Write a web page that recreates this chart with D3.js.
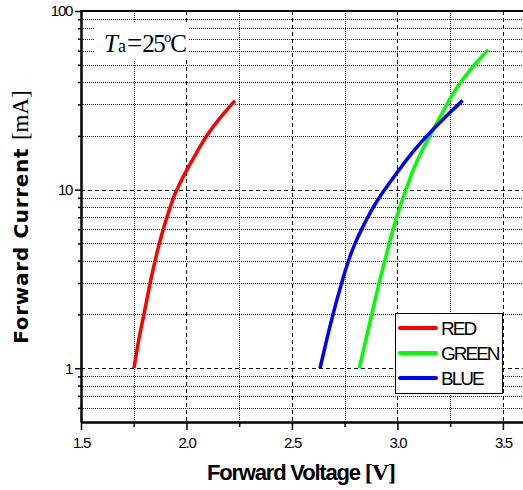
<!DOCTYPE html>
<html><head><meta charset="utf-8">
<script src="https://cdn.jsdelivr.net/npm/d3@7"></script>
<style>body{margin:0;background:#fff}svg{display:block}</style>
</head><body><svg id="c" width="523" height="490"></svg>
<script>
// ---- data ----
const seriesNames = ["RED", "GREEN", "BLUE"];
const seriesColors = ["#ff0000", "#00ff00", "#0000ff"];
const redV   = [1.751, 1.773, 1.795, 1.827, 1.851, 1.871, 1.890, 1.907, 1.923, 1.938, 1.953, 2.005, 2.057, 2.096, 2.159, 2.230];
const redI   = [1.0,   1.45,  1.9,   3.0,   4.0,   5.0,   6.0,   7.0,   8.0,   9.0,   10.0,  13.2,  16.8,  20.2,  25.3,  31.5];
const greenV = [2.819, 2.874, 2.912, 2.941, 2.961, 2.980, 2.996, 3.012, 3.026, 3.040, 3.058, 3.074, 3.118, 3.162, 3.217, 3.265, 3.320, 3.375, 3.430];
const greenI = [1.0,   1.9,   3.0,   4.0,   5.0,   6.0,   7.0,   8.0,   9.0,   10.0,  11.4,  12.9,  16.8,  20.8,  27.6,  34.9,  43.3,  51.6,  60.7];
const blueV  = [2.633, 2.688, 2.735, 2.767, 2.798, 2.830, 2.859, 2.886, 2.912, 2.940, 2.996, 3.067, 3.130, 3.193, 3.257, 3.309];
const blueI  = [1.0,   1.9,   3.0,   4.0,   5.0,   6.0,   7.0,   8.0,   9.0,   10.0,  12.4,  16.0,  19.5,  23.2,  27.6,  31.6];
const xMajorTicks = [1.5, 2.0, 2.5, 3.0, 3.5];
const xMinorTicks = [1.75, 2.25, 2.75, 3.25];
const yMajorTicks = [1, 10, 100];
const yMinorTicks = [0.6, 0.7, 0.8, 0.9, 2, 3, 4, 5, 6, 7, 8, 9, 20, 30, 40, 50, 60, 70, 80, 90];
const xTitle = "Forward Voltage ";
const xUnit = "[V]";
const yTitle = "Forward Current ";
const yUnit = "[mA]";

const series = [
  {name: seriesNames[0], color: seriesColors[0], v: redV, i: redI},
  {name: seriesNames[1], color: seriesColors[1], v: greenV, i: greenI},
  {name: seriesNames[2], color: seriesColors[2], v: blueV, i: blueI}
];

// ---- layout ----
const L = 81, R = 524, T = 11, B = 422;
const svg = d3.select("#c");
const x = d3.scaleLinear().domain([1.5, 3.6]).range([L, R]);
const y = d3.scaleLog().domain([0.5, 100]).range([B, T]);

// grid
const grid = svg.append("g");
grid.selectAll(".vmin").data(xMinorTicks).join("line")
  .attr("x1", d => Math.round(x(d)) + 0.5).attr("x2", d => Math.round(x(d)) + 0.5).attr("y1", T).attr("y2", B)
  .attr("stroke", "#222").attr("stroke-width", 1).attr("stroke-dasharray", "1,1");
grid.selectAll(".vmaj").data(xMajorTicks.filter(d => d > 1.5)).join("line")
  .attr("x1", d => Math.round(x(d)) + 0.5).attr("x2", d => Math.round(x(d)) + 0.5).attr("y1", T).attr("y2", B)
  .attr("stroke", "#111").attr("stroke-width", 1).attr("stroke-dasharray", "4,3");
grid.selectAll(".hmin").data(yMinorTicks).join("line")
  .attr("x1", L).attr("x2", R).attr("y1", d => Math.round(y(d)) + 0.5).attr("y2", d => Math.round(y(d)) + 0.5)
  .attr("stroke", "#222").attr("stroke-width", 1).attr("stroke-dasharray", "1,1");
grid.selectAll(".hmaj").data(yMajorTicks.filter(d => d < 100)).join("line")
  .attr("x1", L).attr("x2", R).attr("y1", d => Math.round(y(d)) + 0.5).attr("y2", d => Math.round(y(d)) + 0.5)
  .attr("stroke", "#111").attr("stroke-width", 1).attr("stroke-dasharray", "4,3");

// Ta label with white background
svg.append("rect").attr("x", 95).attr("y", 23).attr("width", 93).attr("height", 37).attr("fill", "#fff");
const ta = svg.append("text").attr("x", 104).attr("y", 52)
  .attr("font-family", "Liberation Serif, Times New Roman, serif").attr("font-size", 25).attr("fill", "#000");
ta.append("tspan").attr("font-style", "italic").text("T");
ta.append("tspan").attr("font-size", 18).attr("dx", 0).text("a");
ta.append("tspan").attr("dx", 1).attr("font-size", 27).text("=");
ta.append("tspan").attr("letter-spacing", -1.5).text("25");
ta.append("tspan").attr("font-size", 14).attr("dy", -10).text("o");
ta.append("tspan").attr("dy", 10).attr("dx", -1).text("C");

// curves
const line = d3.line().x(d => x(d[0])).y(d => y(d[1])).curve(d3.curveBasis);
svg.append("g").selectAll("path").data(series).join("path")
  .attr("d", s => line(s.v.map((v, k) => [v, s.i[k]])))
  .attr("fill", "none").attr("stroke", s => s.color).attr("stroke-width", 3.5)
  .attr("stroke-linecap", "butt").attr("stroke-linejoin", "round");

// axes
const font = "Liberation Sans, Arial, sans-serif";
svg.append("g").attr("transform", `translate(0,${B})`)
  .call(d3.axisBottom(x).tickValues(xMajorTicks).tickFormat(d3.format(".1f")).tickSize(8).tickSizeOuter(0).tickPadding(7));
svg.append("g").attr("transform", `translate(0,${B})`)
  .call(d3.axisBottom(x).tickValues(xMinorTicks).tickFormat("").tickSize(5).tickSizeOuter(0));
svg.append("g").attr("transform", `translate(${L},0)`)
  .call(d3.axisLeft(y).tickValues(yMajorTicks).tickFormat(d3.format("d")).tickSize(6).tickSizeOuter(0).tickPadding(3));
svg.append("g").attr("transform", `translate(${L},0)`)
  .call(d3.axisLeft(y).tickValues(yMinorTicks).tickFormat("").tickSize(3).tickSizeOuter(0));
svg.selectAll(".domain").attr("stroke", "#000").attr("stroke-width", 2);
svg.selectAll(".tick line").attr("stroke", "#000").attr("stroke-width", 1.5);
svg.selectAll(".tick text").attr("font-family", font).attr("font-size", 15)
  .attr("letter-spacing", -1.3).attr("fill", "#000");
// top border
svg.append("line").attr("x1", L - 1).attr("x2", R).attr("y1", T).attr("y2", T)
  .attr("stroke", "#000").attr("stroke-width", 2);

// axis titles
const xt = svg.append("text").attr("x", 301).attr("y", 480).attr("text-anchor", "middle").attr("fill", "#000");
xt.append("tspan").attr("font-family", font).attr("font-weight", "bold").attr("font-size", 22)
  .attr("letter-spacing", -1.2).text(xTitle);
xt.append("tspan").attr("font-family", "Liberation Serif, serif").attr("font-weight", "bold").attr("font-size", 24)
  .attr("letter-spacing", -1).text(xUnit);

const yt = svg.append("text").attr("transform", "translate(28,217) rotate(-90)").attr("text-anchor", "middle").attr("fill", "#000");
yt.append("tspan").attr("font-family", "DejaVu Sans, Verdana, sans-serif").attr("font-weight", "bold").attr("font-size", 20)
  .attr("letter-spacing", 0.7).text(yTitle);
yt.append("tspan").attr("font-family", "Liberation Serif, serif").attr("font-size", 23).text(yUnit);

// legend
const lg = svg.append("g");
lg.append("rect").attr("x", 395.5).attr("y", 313.5).attr("width", 107).attr("height", 80)
  .attr("fill", "#fff").attr("stroke", "#000").attr("stroke-width", 1);
const items = lg.selectAll(".it").data(series).join("g")
  .attr("transform", (s, k) => `translate(0,${328 + k * 25})`);
items.append("line").attr("x1", 400).attr("x2", 436).attr("y1", 0).attr("y2", 0)
  .attr("stroke", s => s.color).attr("stroke-width", 4).attr("stroke-linecap", "round");
items.append("text").attr("x", 441).attr("y", 7).text(s => s.name)
  .attr("font-family", font).attr("font-size", 19).attr("letter-spacing", -2).attr("fill", "#000");
</script></body></html>
